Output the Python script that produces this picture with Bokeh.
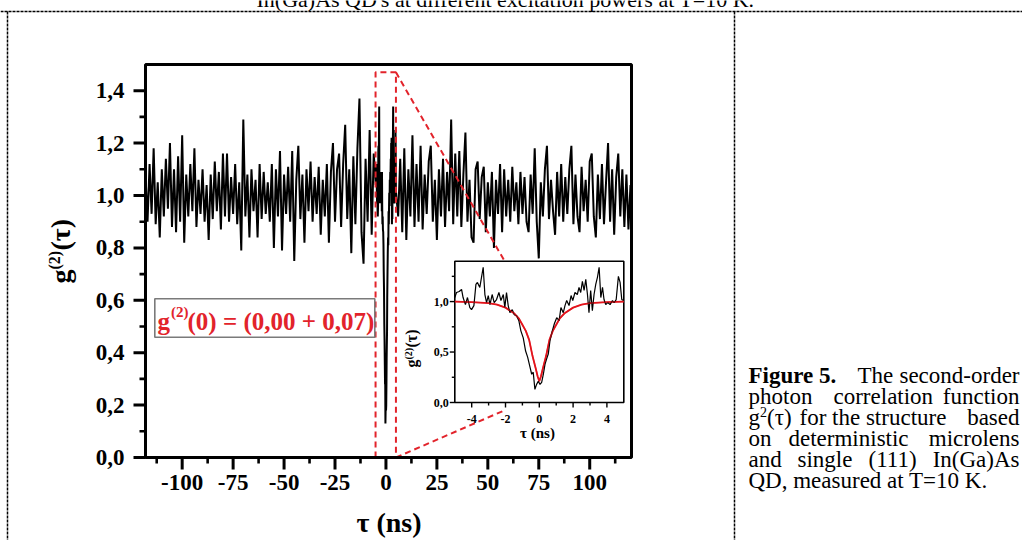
import math
from bokeh.plotting import figure
from bokeh.models import Range1d, Label
from bokeh.embed import file_html
from bokeh.resources import INLINE
from bokeh.core.properties import value

# ---------------- data ----------------
main_tau_left = list(range(-118, -5))
main_g2_left = [
    1.08, 0.90, 1.12, 0.93, 1.18, 0.89, 1.05, 0.84, 1.10, 0.92,
    1.14, 0.95, 1.20, 0.88, 1.10, 0.86, 1.15, 0.90, 1.23, 0.82,
    1.08, 0.92, 1.12, 0.94, 1.18, 0.88, 1.06, 0.93, 1.10, 0.90,
    1.04, 0.83, 1.08, 0.91, 1.13, 0.94, 1.09, 0.87, 1.16, 0.92,
    1.16, 0.90, 1.07, 0.93, 1.12, 0.89, 1.05, 0.79, 1.29, 0.92,
    1.08, 0.84, 1.10, 0.94, 1.06, 0.84, 1.12, 0.91, 1.09, 0.93,
    1.05, 0.90, 1.12, 0.80, 1.10, 0.92, 1.17, 0.79, 1.08, 0.93,
    1.11, 0.90, 1.17, 0.75, 1.06, 1.19, 0.91, 1.08, 0.82, 1.10,
    0.94, 1.13, 0.90, 1.07, 0.93, 1.11, 0.85, 1.06, 0.92, 1.12,
    0.82, 1.09, 1.20, 0.90, 1.10, 1.16, 0.88, 1.12, 1.27, 0.91,
    1.10, 0.78, 1.15, 0.89, 1.18, 1.37, 0.86, 0.74, 1.14, 0.90,
    1.25, 0.85, 1.16]

inset_tau = [
    -5.0, -4.9, -4.74, -4.6, -4.51, -4.37, -4.25, -4.11, -4.01, -3.87,
    -3.75, -3.66, -3.52, -3.42, -3.32, -3.22, -3.12, -3.02, -2.92, -2.79,
    -2.67, -2.53, -2.39, -2.27, -2.13, -2.04, -1.94, -1.84, -1.74, -1.6,
    -1.48, -1.34, -1.21, -1.09, -0.95, -0.81, -0.69, -0.55, -0.45, -0.36,
    -0.26, -0.16, -0.06, 0.04, 0.14, 0.24, 0.34, 0.43, 0.53, 0.63,
    0.77, 0.89, 1.03, 1.17, 1.28, 1.42, 1.52, 1.62, 1.76, 1.88,
    1.98, 2.11, 2.25, 2.35, 2.45, 2.55, 2.65, 2.75, 2.85, 2.94,
    3.04, 3.14, 3.24, 3.34, 3.44, 3.54, 3.64, 3.74, 3.83, 3.93,
    4.05, 4.19, 4.33, 4.43, 4.55, 4.68, 4.78, 4.88, 4.98]
inset_g2 = [
    1.04, 1.09, 1.10, 1.12, 1.04, 0.97, 1.04, 0.94, 0.92, 0.96,
    1.17, 1.19, 1.14, 1.24, 1.34, 1.07, 0.99, 1.06, 0.97, 1.07,
    0.99, 1.02, 1.09, 1.01, 1.07, 0.94, 1.09, 0.96, 0.89, 0.92,
    0.87, 0.86, 0.81, 0.71, 0.64, 0.51, 0.45, 0.35, 0.28, 0.30,
    0.13, 0.18, 0.21, 0.18, 0.20, 0.28, 0.38, 0.43, 0.48, 0.61,
    0.71, 0.78, 0.84, 0.81, 0.94, 0.89, 0.96, 1.01, 0.96, 1.06,
    1.01, 1.09, 1.07, 1.14, 1.09, 1.20, 1.11, 1.22, 1.07, 0.89,
    1.11, 0.91, 1.07, 1.17, 1.24, 1.34, 1.04, 1.14, 1.02, 0.97,
    0.99, 0.97, 1.01, 0.99, 1.02, 1.25, 1.19, 1.02, 1.01]

main_tau_right = list(range(6, 121))
main_g2_right = [
    0.92, 1.14, 0.86, 1.18, 0.83, 1.10, 0.92, 1.23, 0.88, 1.12,
    0.90, 1.19, 0.87, 1.08, 0.93, 1.13, 1.19, 0.90, 1.06, 0.83,
    1.10, 0.92, 1.14, 0.88, 1.09, 0.94, 1.29, 0.89, 1.16, 0.92,
    1.17, 0.88, 1.08, 1.24, 0.90, 1.06, 0.84, 0.82, 1.10, 1.13,
    0.91, 1.07, 1.11, 0.86, 1.05, 0.92, 1.09, 0.80, 1.06, 0.93,
    1.12, 0.86, 1.10, 0.92, 1.06, 0.90, 1.11, 0.94, 1.05, 0.89,
    1.09, 0.93, 1.07, 0.90, 0.86, 1.08, 0.93, 1.18, 0.90, 0.76,
    1.05, 0.92, 1.10, 1.19, 0.91, 1.06, 0.94, 0.85, 1.09, 0.92,
    1.12, 0.90, 1.07, 0.93, 1.10, 1.19, 0.89, 1.08, 0.92, 0.86,
    1.11, 0.94, 1.06, 0.90, 1.13, 1.16, 0.92, 0.84, 1.08, 0.91,
    1.12, 0.89, 1.05, 1.20, 0.90, 1.10, 0.85, 1.07, 1.16, 0.92,
    1.10, 0.88, 1.08, 0.87, 1.04]

fit_tau = [-5, -4, -3, -2.5, -2, -1.5, -1.2, -1, -0.8, -0.6, -0.4, -0.2, -0.1, 0,
           0.1, 0.2, 0.4, 0.6, 0.8, 1, 1.2, 1.5, 2, 2.5, 3, 4, 5]
fit_g2 = [1.00, 0.995, 0.985, 0.97, 0.94, 0.885, 0.83, 0.77, 0.71, 0.62, 0.46, 0.33, 0.26, 0.21,
          0.26, 0.33, 0.46, 0.62, 0.71, 0.77, 0.83, 0.885, 0.94, 0.97, 0.985, 0.995, 1.00]

x_major = [-100, -75, -50, -25, 0, 25, 50, 75, 100]
x_labels = ["-100", "-75", "-50", "-25", "0", "25", "50", "75", "100"]
x_minor = [-112.5, -87.5, -62.5, -37.5, -12.5, 12.5, 37.5, 62.5, 87.5, 112.5]
y_major = [0.0, 0.2, 0.4, 0.6, 0.8, 1.0, 1.2, 1.4]
y_labels = ["0,0", "0,2", "0,4", "0,6", "0,8", "1,0", "1,2", "1,4"]
y_minor = [0.1, 0.3, 0.5, 0.7, 0.9, 1.1, 1.3]

ix_major = [-4, -2, 0, 2, 4]
ix_labels = ["-4", "-2", "0", "2", "4"]
ix_minor = [-3, -1, 1, 3]
iy_major = [0.0, 0.5, 1.0]
iy_labels = ["0,0", "0,5", "1,0"]
iy_minor = [0.25, 0.75, 1.25]

zoom_box_tau = [-5.1, -5.1, 4.9, 4.9]
zoom_box_g2 = [0.0, 1.47, 1.47, 0.0]
zoom_line_tau = [[4.9, 58.2], [4.9, 58.2]]
zoom_line_g2 = [[1.47, 0.75], [0.0, 0.18]]

annot_text = "(0) = (0,00 + 0,07)"

# ---------------- layout (page pixels) ----------------
FONT = "Liberation Serif"
RED = "#e2232b"
W, H = 1022, 540
FL, FR, FT, FB = 145, 631, 64, 457           # main plot box
X0, X1, Y0, Y1 = -118.0, 120.5, 0.0, 1.5      # main data extent
IL, IR, IT, IB = 454.3, 623.3, 260.7, 402.0   # inset box
IX0, IX1, IY0, IY1 = -5.0, 5.0, 0.0, 1.4      # inset data extent

kx = (X1 - X0) / (FR - FL)
ky = (Y1 - Y0) / (FB - FT)
p = figure(width=W, height=H, output_backend="svg", toolbar_location=None,
           x_range=Range1d(X0 - FL * kx, X0 + (W - FL) * kx),
           y_range=Range1d(Y0 - (H - FB) * ky, Y0 + FB * ky),
           x_axis_location=None, y_axis_location=None, min_border=0)
p.background_fill_color = "white"
p.border_fill_color = "white"
p.outline_line_color = None
p.xgrid.visible = False
p.ygrid.visible = False

sx = (IX1 - IX0) / (IR - IL)
sy = (IY1 - IY0) / (IB - IT)
p.extra_x_ranges = {"ix": Range1d(IX0 - IL * sx, IX0 + (W - IL) * sx),
                    "px": Range1d(0, W)}
p.extra_y_ranges = {"iy": Range1d(IY0 - (H - IB) * sy, IY0 + IB * sy),
                    "py": Range1d(H, 0)}

# main trace
main_tau = main_tau_left + inset_tau + main_tau_right
main_g2 = main_g2_left + inset_g2 + main_g2_right
p.line(main_tau, main_g2, line_color="black", line_width=2.0)

# zoom indicator
p.line(zoom_box_tau, zoom_box_g2, line_color=RED, line_width=2, line_dash="6 4")
p.multi_line(zoom_line_tau, zoom_line_g2, line_color=RED, line_width=2, line_dash="6 4")

# main box, ticks and tick labels
n = len
p.quad(left=[X0], right=[X1], bottom=[Y0], top=[Y1], fill_color=None,
       line_color="black", line_width=3)
p.segment(x0=x_major, y0=[Y0] * n(x_major), x1=x_major, y1=[Y0 - 12 * ky] * n(x_major),
          line_color="black", line_width=3)
p.segment(x0=x_minor, y0=[Y0] * n(x_minor), x1=x_minor, y1=[Y0 - 6 * ky] * n(x_minor),
          line_color="black", line_width=2.6)
p.segment(x0=[X0] * n(y_major), y0=y_major, x1=[X0 - 12 * kx] * n(y_major), y1=y_major,
          line_color="black", line_width=3)
p.segment(x0=[X0] * n(y_minor), y0=y_minor, x1=[X0 - 6 * kx] * n(y_minor), y1=y_minor,
          line_color="black", line_width=2.6)
p.text(x=x_major, y=[Y0 - 17 * ky] * n(x_major), text=x_labels, text_align="center",
       text_baseline="top", text_font=value(FONT), text_font_style="bold",
       text_font_size="23px", text_color="black")
p.text(x=[X0 - 21 * kx] * n(y_major), y=y_major, text=y_labels, text_align="right",
       text_baseline="middle", text_font=value(FONT), text_font_style="bold",
       text_font_size="23px", text_color="black")

# inset
I = dict(x_range_name="ix", y_range_name="iy")
p.quad(left=[IX0], right=[IX1], bottom=[IY0], top=[IY1], fill_color="white",
       line_color="black", line_width=1.6, **I)
p.line(fit_tau, fit_g2, line_color="#e3141c", line_width=1.8, **I)
p.line(inset_tau, inset_g2, line_color="black", line_width=1.2, **I)
p.line(fit_tau, fit_g2, line_color="#e3141c", line_width=1.4, line_alpha=0.6, **I)
p.segment(x0=ix_major, y0=[IY0] * n(ix_major), x1=ix_major, y1=[IY0 - 5 * sy] * n(ix_major),
          line_color="black", line_width=1.4, **I)
p.segment(x0=ix_minor, y0=[IY0] * n(ix_minor), x1=ix_minor, y1=[IY0 - 3 * sy] * n(ix_minor),
          line_color="black", line_width=1.4, **I)
p.segment(x0=[IX0] * n(iy_major), y0=iy_major, x1=[IX0 - 5 * sx] * n(iy_major), y1=iy_major,
          line_color="black", line_width=1.4, **I)
p.segment(x0=[IX0] * n(iy_minor), y0=iy_minor, x1=[IX0 - 3 * sx] * n(iy_minor), y1=iy_minor,
          line_color="black", line_width=1.4, **I)
p.text(x=ix_major, y=[IY0 - 12 * sy] * n(ix_major), text=ix_labels, text_align="center",
       text_baseline="top", text_font=value(FONT), text_font_style="bold",
       text_font_size="12px", text_color="black", **I)
p.text(x=[IX0 - 6 * sx] * n(iy_major), y=iy_major, text=iy_labels, text_align="right",
       text_baseline="middle", text_font=value(FONT), text_font_style="bold",
       text_font_size="12px", text_color="black", **I)

# page rules (dotted) and the grey frame of the annotation
P = dict(x_range_name="px", y_range_name="py")
p.segment(x0=[7, 0, 734], y0=[11, 11, 11], x1=[7, W, 734], y1=[H, 11, H],
          line_color="black", line_width=1.5, line_dash="3 1", **P)
p.quad(left=[154.3], right=[374.3], top=[298.3], bottom=[336.7], fill_color=None,
       line_color="#7a7a7a", line_width=1.6, **P)


def lab(px, py, text, size, style="normal", color="black", align="left", angle=0.0):
    # (px, py) = start of the alphabetic baseline in page pixels
    d = 0.33 * size
    if angle == 0.0:
        py = py - d
    else:
        px = px - d
    p.add_layout(Label(x=px, y=H - py, x_units="screen", y_units="screen",
                       text=text, text_font=FONT, text_font_size=f"{size}px",
                       text_font_style=style, text_color=color, text_align=align,
                       text_baseline="alphabetic", angle=angle))


up = math.pi / 2
# heading line of the page (cut by the top edge)
lab(505, 6, "In(Ga)As QD's at different excitation powers at T=10 K.", 22, align="center")

# main axis titles
lab(69, 283, "g", 28, "bold", angle=up)
lab(59, 269, "(2)", 16, "bold", angle=up)
lab(69, 250, "(τ)", 28, "bold", angle=up)
lab(388.5, 531, "τ (ns)", 28, "bold", align="center")

# inset axis titles
lab(537, 437, "τ (ns)", 15, "bold", align="center")
lab(416.5, 367, "g", 16, "bold", angle=up)
lab(411, 359, "(2)", 10, "bold", angle=up)
lab(416.5, 347, "(τ)", 16, "bold", angle=up)

# g(2)(0) annotation
lab(157, 329, "g", 25, "bold", RED)
lab(170.5, 316, "(2)", 15, "bold", RED)
lab(187, 329, annot_text, 25, "bold", RED)

# caption
CS = 23
lab(748, 383, "Figure 5.", CS, "bold")
lab(857, 383, "The", CS)
lab(1019, 383, "second-order", CS, align="right")
lab(748, 404, "photon", CS)
lab(833, 404, "correlation", CS)
lab(1019, 404, "function", CS, align="right")
lab(748, 425, "g", CS)
lab(759.5, 416, "2", 14)
lab(766.5, 425, "(τ)", CS)
lab(799, 425, "for the structure", CS)
lab(1019, 425, "based", CS, align="right")
lab(748, 446, "on", CS)
lab(788, 446, "deterministic", CS)
lab(1019, 446, "microlens", CS, align="right")
lab(748, 467, "and", CS)
lab(797, 467, "single", CS)
lab(868, 467, "(111)", CS)
lab(1019, 467, "In(Ga)As", CS, align="right")
lab(748, 488, "QD, measured at T=10 K.", CS)

open("out.html", "w").write(file_html(p, INLINE))
